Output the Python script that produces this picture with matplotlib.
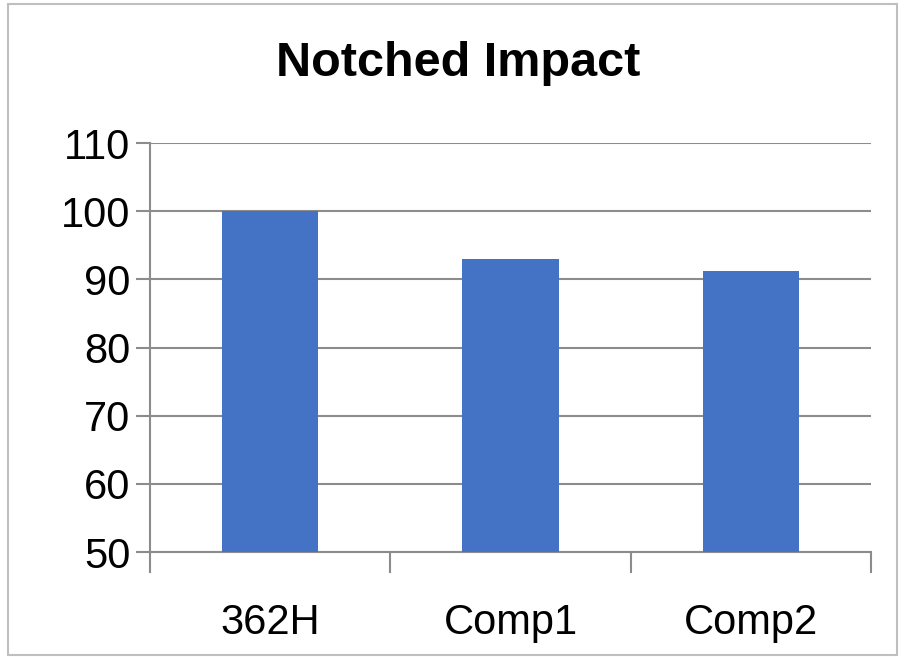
import matplotlib
matplotlib.use("Agg")
import matplotlib.pyplot as plt
from matplotlib.patches import Rectangle

categories = ["362H", "Comp1", "Comp2"]
values = [100, 93, 91.2]
yticks = [50, 60, 70, 80, 90, 100, 110]

plt.rcParams['font.family'] = ['Liberation Sans', 'DejaVu Sans']

fig = plt.figure(figsize=(9.05, 6.59), dpi=100)
W, H = 905, 659
ax = fig.add_axes([150 / W, 1 - 552 / H, (871 - 150) / W, (552 - 143) / H])

x = range(len(categories))
ax.bar(x, values, width=0.4, color="#4472C4", zorder=3)

ax.set_xlim(-0.5, len(categories) - 0.5)
ax.set_ylim(50, 110)
ax.set_yticks(yticks)
ax.set_yticklabels([str(t) for t in yticks], fontsize=30)
ax.grid(axis='y', color='#8c8c8c', linewidth=1.5, zorder=0)

# category labels, no ticks at centres
ax.set_xticks(list(x))
ax.set_xticklabels(categories, fontsize=30)
ax.tick_params(axis='x', length=0, pad=37)
ax.tick_params(axis='y', length=10, width=1.5, color='#8c8c8c', pad=4)

# boundary ticks below the x axis
ax.set_xticks([-0.5, 0.5, 1.5, 2.5], minor=True)
ax.tick_params(axis='x', which='minor', length=15, width=1.5, color='#8c8c8c')

for side in ['top', 'right']:
    ax.spines[side].set_visible(False)
for side in ['left', 'bottom']:
    ax.spines[side].set_color('#8c8c8c')
    ax.spines[side].set_linewidth(1.5)

fig.text(458 / W, 1 - 64 / H, "Notched Impact", ha='center', va='center',
         fontsize=35, fontweight='bold')

# outer chart border
fig.patches.append(Rectangle((8 / W, 4 / H), 889 / W, 651 / H, transform=fig.transFigure,
                             fill=False, edgecolor='#bfbfbf', linewidth=1.5))

fig.savefig("out.png", dpi=100)
